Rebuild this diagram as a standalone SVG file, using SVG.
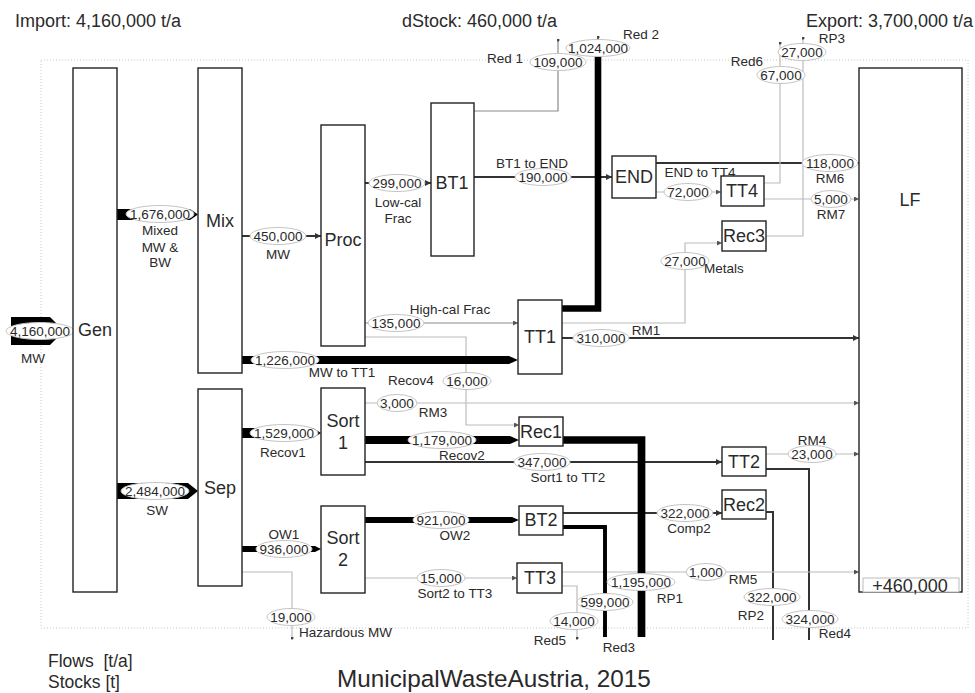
<svg xmlns="http://www.w3.org/2000/svg" width="975" height="693" viewBox="0 0 975 693">
<defs>
<style>
text{font-family:"Liberation Sans",Arial,sans-serif;fill:#2a2a2a}
.nl{font-size:18px;text-anchor:middle;dominant-baseline:central}
.v{font-size:13.5px;text-anchor:middle;dominant-baseline:central}
.l{font-size:13.5px;text-anchor:middle;dominant-baseline:central}
.ls{font-size:13.5px;text-anchor:start;dominant-baseline:central}
.hd{font-size:18px}
.node rect{fill:#fff;stroke:#222;stroke-width:1.4}
.dk{fill:none;stroke:#333;stroke-width:2}
.md{fill:none;stroke:#8a8a8a;stroke-width:1.2}
.lt{fill:none;stroke:#bcbcbc;stroke-width:1.2}
.tk{fill:none;stroke:#000;stroke-linejoin:miter}
.band{fill:#000}
.ell{fill:#fff;stroke:#c4c4c4;stroke-width:1}
</style>
<marker id="ad" viewBox="0 0 10 10" refX="10" refY="5" markerWidth="6" markerHeight="6" markerUnits="userSpaceOnUse" orient="auto"><path d="M0,0L10,5L0,10z" fill="#333"/></marker>
<marker id="al" viewBox="0 0 10 10" refX="10" refY="5" markerWidth="5" markerHeight="5" markerUnits="userSpaceOnUse" orient="auto"><path d="M0,0L10,5L0,10z" fill="#555"/></marker>
<marker id="dot" viewBox="0 0 10 10" refX="5" refY="5" markerWidth="3" markerHeight="3" markerUnits="userSpaceOnUse"><circle cx="5" cy="5" r="5" fill="#444"/></marker>
</defs>
<rect width="975" height="693" fill="#fff"/>
<rect x="41" y="60" width="927" height="568" fill="none" stroke="#c8c8c8" stroke-width="1" stroke-dasharray="1 2"/>

<text class="hd" x="15" y="27">Import: 4,160,000 t/a</text>
<text class="hd" x="402" y="27">dStock: 460,000 t/a</text>
<text class="hd" x="973" y="27" text-anchor="end">Export: 3,700,000 t/a</text>
<text x="48" y="667" font-size="17.5" style="white-space:pre">Flows  [t/a]</text>
<text x="48" y="688" font-size="17.5">Stocks [t]</text>
<text x="337" y="687" font-size="24.3">MunicipalWasteAustria, 2015</text>

<g id="connectors">
<path class="dk" d="M242,236H321" stroke-width="3" marker-end="url(#ad)"/>
<path class="dk" d="M365,183H431" marker-end="url(#ad)"/>
<path class="dk" d="M474,177H612" stroke-width="1.5" marker-end="url(#ad)"/>
<path class="dk" d="M562,338H859" marker-end="url(#ad)"/>
<path class="dk" d="M656,163H859" stroke-width="1.5" marker-end="url(#ad)"/>
<path class="dk" d="M365,462H722" stroke-width="2.2" marker-end="url(#ad)"/>
<path class="dk" d="M563,513H722" marker-end="url(#ad)"/>
<path class="dk" d="M766,469H809V640"/>
<path class="dk" d="M766,512H773V640"/>
<path class="md" d="M365,323H518" marker-end="url(#al)"/>
<path class="md" d="M474,111H558V40" marker-end="url(#dot)"/>
<path class="lt" d="M365,337H466V425H519" marker-end="url(#al)"/>
<path class="lt" d="M365,403H859" marker-end="url(#al)"/>
<path class="lt" d="M365,578H517" marker-end="url(#al)"/>
<path class="lt" d="M242,572H292V638" marker-end="url(#dot)"/>
<path class="lt" d="M656,192H721" marker-end="url(#al)"/>
<path class="lt" d="M764,183H780V43" marker-end="url(#dot)"/>
<path class="lt" d="M764,199H859" marker-end="url(#al)"/>
<path class="lt" d="M766,236H803V38" marker-end="url(#dot)"/>
<path class="lt" d="M562,323H685V243H722" marker-end="url(#al)"/>
<path class="lt" d="M562,572H859" marker-end="url(#al)"/>
<path class="lt" d="M562,586H577V638" marker-end="url(#dot)"/>
<path class="lt" d="M766,454H859" marker-end="url(#al)"/>
<path class="tk" d="M562,308.5H598V52" stroke-width="6.6"/>
<path d="M598,52V37" stroke="#000" stroke-width="1.2" marker-end="url(#dot)"/>
<path class="tk" d="M563,440H641.5V637" stroke-width="7.7"/>
<path class="tk" d="M563,527H605V637" stroke-width="3.9"/>
<polygon class="band" points="11,317 50,317 64,331 50,345 11,345"/>
<polygon class="band" points="117,209 190,209 198,214.5 190,220 117,220"/>
<polygon class="band" points="117,483 188,483 198,491 188,499 117,499"/>
<polygon class="band" points="242,356 509,356 518,360 509,364 242,364"/>
<polygon class="band" points="242,428 313,428 321,433 313,438 242,438"/>
<polygon class="band" points="242,546 315,546 321,549 315,552 242,552"/>
<polygon class="band" points="365,436 510,436 519,440 510,444 365,444"/>
<polygon class="band" points="365,517 512,517 519,520 512,523 365,523"/>

<ellipse class="ell" cx="40" cy="331" rx="34" ry="8.5"/><text class="v" x="40" y="331">4,160,000</text><text class="l" x="33" y="358">MW</text>
<ellipse class="ell" cx="160" cy="214" rx="34" ry="8.5"/><text class="v" x="160" y="214">1,676,000</text>
<text class="l" x="160" y="230">Mixed</text><text class="l" x="160" y="247">MW &amp;</text><text class="l" x="160" y="262">BW</text>
<ellipse class="ell" cx="155" cy="491" rx="34" ry="8.5"/><text class="v" x="155" y="491">2,484,000</text><text class="l" x="157" y="510">SW</text>
<ellipse class="ell" cx="278" cy="236" rx="28" ry="8.5"/><text class="v" x="278" y="236">450,000</text><text class="l" x="278" y="254">MW</text>
<ellipse class="ell" cx="285" cy="360" rx="34" ry="8.5"/><text class="v" x="285" y="360">1,226,000</text><text class="l" x="342" y="372">MW to TT1</text>
<ellipse class="ell" cx="284" cy="433" rx="34" ry="8.5"/><text class="v" x="284" y="433">1,529,000</text><text class="l" x="283" y="452">Recov1</text>
<ellipse class="ell" cx="284" cy="549" rx="28" ry="8.5"/><text class="v" x="284" y="549">936,000</text><text class="l" x="284" y="534">OW1</text>
<ellipse class="ell" cx="291" cy="617" rx="24" ry="8.5"/><text class="v" x="291" y="617">19,000</text><text class="ls" x="299" y="632">Hazardous MW</text>
<ellipse class="ell" cx="397" cy="183" rx="28" ry="8.5"/><text class="v" x="397" y="183">299,000</text><text class="l" x="398" y="202">Low-cal</text><text class="l" x="398" y="218">Frac</text>
<ellipse class="ell" cx="396" cy="323" rx="28" ry="8.5"/><text class="v" x="396" y="323">135,000</text><text class="l" x="450" y="309">High-cal Frac</text>
<ellipse class="ell" cx="467" cy="381" rx="24" ry="8.5"/><text class="v" x="467" y="381">16,000</text><text class="l" x="411" y="380">Recov4</text>
<ellipse class="ell" cx="397" cy="403" rx="20" ry="8.5"/><text class="v" x="397" y="403">3,000</text><text class="l" x="433" y="412">RM3</text>
<ellipse class="ell" cx="442" cy="440" rx="34" ry="8.5"/><text class="v" x="442" y="440">1,179,000</text><text class="l" x="462" y="455">Recov2</text>
<ellipse class="ell" cx="542" cy="462" rx="28" ry="8.5"/><text class="v" x="542" y="462">347,000</text><text class="l" x="568" y="477">Sort1 to TT2</text>
<ellipse class="ell" cx="441" cy="520" rx="28" ry="8.5"/><text class="v" x="441" y="520">921,000</text><text class="l" x="455" y="535">OW2</text>
<ellipse class="ell" cx="441" cy="578" rx="24" ry="8.5"/><text class="v" x="441" y="578">15,000</text><text class="l" x="455" y="593">Sort2 to TT3</text>
<ellipse class="ell" cx="543" cy="177" rx="28" ry="8.5"/><text class="v" x="543" y="177">190,000</text><text class="l" x="532" y="163">BT1 to END</text>
<ellipse class="ell" cx="558" cy="62" rx="28" ry="8.5"/><text class="v" x="558" y="62">109,000</text><text class="l" x="505" y="58">Red 1</text>
<ellipse class="ell" cx="598" cy="48" rx="32" ry="8.5"/><text class="v" x="598" y="48">1,024,000</text><text class="l" x="641" y="34">Red 2</text>
<ellipse class="ell" cx="688" cy="192" rx="24" ry="8.5"/><text class="v" x="688" y="192">72,000</text><text class="l" x="700" y="172">END to TT4</text>
<ellipse class="ell" cx="830" cy="163" rx="28" ry="8.5"/><text class="v" x="830" y="163">118,000</text><text class="l" x="830" y="178">RM6</text>
<ellipse class="ell" cx="781" cy="75" rx="24" ry="8.5"/><text class="v" x="781" y="75">67,000</text><text class="l" x="747" y="61">Red6</text>
<ellipse class="ell" cx="831" cy="199" rx="20" ry="8.5"/><text class="v" x="831" y="199">5,000</text><text class="l" x="831" y="214">RM7</text>
<ellipse class="ell" cx="802" cy="52" rx="24" ry="8.5"/><text class="v" x="802" y="52">27,000</text><text class="l" x="832" y="38">RP3</text>
<ellipse class="ell" cx="685" cy="261" rx="24" ry="8.5"/><text class="v" x="685" y="261">27,000</text><text class="l" x="724" y="268">Metals</text>
<ellipse class="ell" cx="601" cy="338" rx="28" ry="8.5"/><text class="v" x="601" y="338">310,000</text><text class="l" x="646" y="330">RM1</text>
<ellipse class="ell" cx="641" cy="582" rx="34" ry="8.5"/><text class="v" x="641" y="582">1,195,000</text><text class="l" x="670" y="598">RP1</text>
<ellipse class="ell" cx="605" cy="602" rx="28" ry="8.5"/><text class="v" x="605" y="602">599,000</text><text class="l" x="619" y="647">Red3</text>
<ellipse class="ell" cx="685" cy="513" rx="28" ry="8.5"/><text class="v" x="685" y="513">322,000</text><text class="l" x="689" y="528">Comp2</text>
<ellipse class="ell" cx="706" cy="572" rx="20" ry="8.5"/><text class="v" x="706" y="572">1,000</text><text class="l" x="743" y="579">RM5</text>
<ellipse class="ell" cx="574" cy="621" rx="24" ry="8.5"/><text class="v" x="574" y="621">14,000</text><text class="l" x="550" y="640">Red5</text>
<ellipse class="ell" cx="812" cy="454" rx="24" ry="8.5"/><text class="v" x="812" y="454">23,000</text><text class="l" x="812" y="440">RM4</text>
<ellipse class="ell" cx="810" cy="619" rx="28" ry="8.5"/><text class="v" x="810" y="619">324,000</text><text class="l" x="835" y="633">Red4</text>
<ellipse class="ell" cx="772" cy="597" rx="28" ry="8.5"/><text class="v" x="772" y="597">322,000</text><text class="l" x="751" y="615">RP2</text>
</g>

<g id="Gen" class="node"><rect x="73" y="68" width="44" height="524"/><text class="nl" x="95" y="330">Gen</text></g>
<g id="Mix" class="node"><rect x="198" y="68" width="44" height="305"/><text class="nl" x="220" y="221">Mix</text></g>
<g id="Sep" class="node"><rect x="198" y="389" width="44" height="197"/><text class="nl" x="220" y="488">Sep</text></g>
<g id="Proc" class="node"><rect x="321" y="125" width="44" height="221"/><text class="nl" x="343" y="240">Proc</text></g>
<g id="Sort1" class="node"><rect x="321" y="388" width="44" height="87"/><text class="nl" x="343" y="421">Sort</text><text class="nl" x="343" y="443">1</text></g>
<g id="Sort2" class="node"><rect x="321" y="506" width="44" height="87"/><text class="nl" x="343" y="538">Sort</text><text class="nl" x="343" y="560">2</text></g>
<g id="BT1" class="node"><rect x="431" y="103" width="43" height="153"/><text class="nl" x="452" y="183">BT1</text></g>
<g id="TT1" class="node"><rect x="518" y="300" width="44" height="74"/><text class="nl" x="540" y="337">TT1</text></g>
<g id="Rec1" class="node"><rect x="519" y="417" width="44" height="29"/><text class="nl" x="541" y="432">Rec1</text></g>
<g id="BT2" class="node"><rect x="519" y="506" width="44" height="29"/><text class="nl" x="541" y="520">BT2</text></g>
<g id="TT3" class="node"><rect x="517" y="563" width="45" height="30"/><text class="nl" x="540" y="578">TT3</text></g>
<g id="END" class="node"><rect x="612" y="156" width="44" height="42"/><text class="nl" x="634" y="177">END</text></g>
<g id="TT4" class="node"><rect x="721" y="176" width="43" height="30"/><text class="nl" x="742" y="191">TT4</text></g>
<g id="Rec3" class="node"><rect x="722" y="221" width="44" height="30"/><text class="nl" x="744" y="236">Rec3</text></g>
<g id="TT2" class="node"><rect x="722" y="447" width="44" height="29"/><text class="nl" x="744" y="462">TT2</text></g>
<g id="Rec2" class="node"><rect x="722" y="490" width="44" height="29"/><text class="nl" x="744" y="505">Rec2</text></g>
<g id="LF" class="node"><rect x="859" y="68" width="103" height="524"/><text class="nl" x="910" y="200">LF</text>
<rect x="863" y="578" width="96" height="14" style="stroke:#bbb;stroke-width:1"/><text class="nl" x="910" y="586">+460,000</text></g>
</svg>
